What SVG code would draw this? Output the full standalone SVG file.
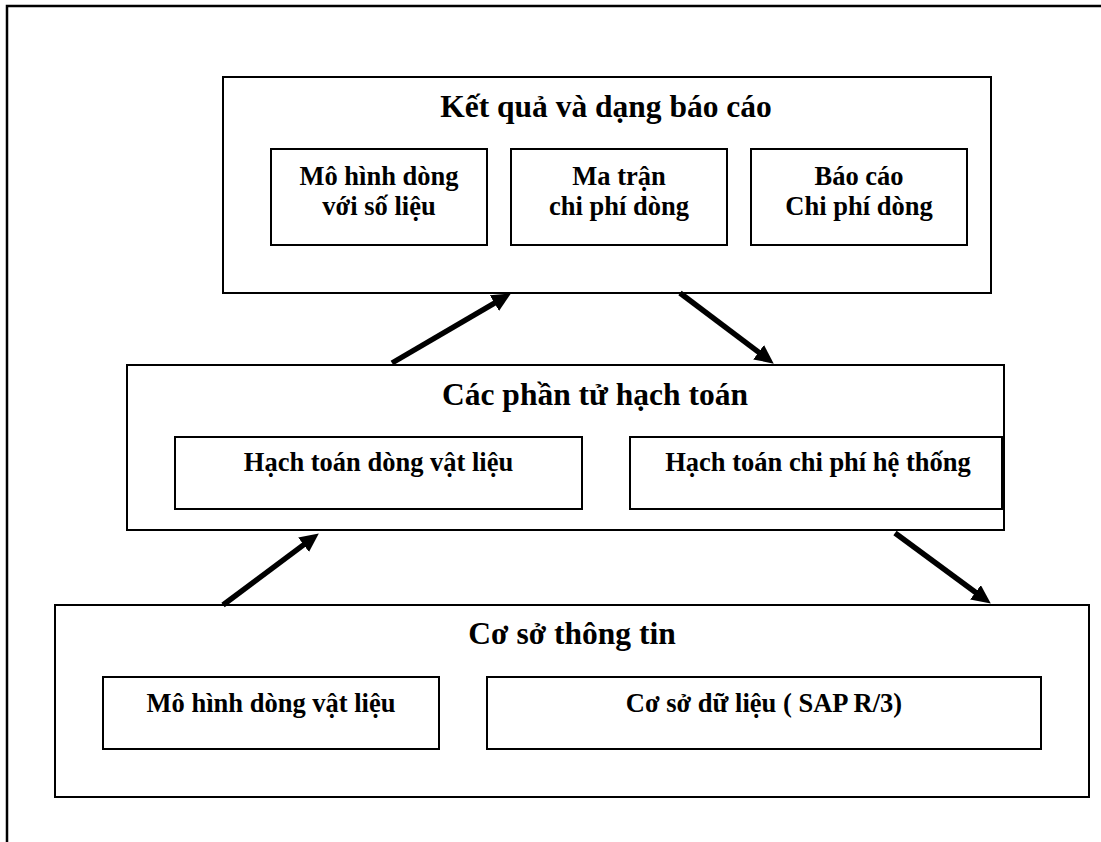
<svg xmlns="http://www.w3.org/2000/svg" width="1101" height="842" viewBox="0 0 1101 842">
  <style>
    .frame { fill: none; stroke: #000; stroke-width: 2.5; }
    .box { fill: #fff; stroke: #000; stroke-width: 2; }
    .sub { fill: #fff; stroke: #000; stroke-width: 2; }
    .title { font-family: "Liberation Serif", "Times New Roman", serif; font-weight: bold; font-size: 31.5px; text-anchor: middle; fill: #000; }
    .label { font-family: "Liberation Serif", "Times New Roman", serif; font-weight: bold; font-size: 26.5px; text-anchor: middle; fill: #000; }
    .arrow { stroke: #000; stroke-width: 5.5; fill: none; marker-end: url(#head); }
  </style>
  <defs>
    <marker id="head" markerUnits="userSpaceOnUse" markerWidth="20" markerHeight="18" refX="2" refY="9" orient="auto" viewBox="0 0 20 18">
      <path d="M0,0 L19,9 L0,18 z" fill="#000"/>
    </marker>
  </defs>

  <rect width="1101" height="842" fill="#fff"/>

  <!-- page frame: top and left rules only -->
  <path class="frame" d="M7,842 L7,6 L1101,6"/>

  <!-- results & reports layer -->
  <g id="ket-qua">
    <rect class="box" x="223" y="77" width="768" height="216"/>
    <text class="title" x="606" y="117">Kết quả và dạng báo cáo</text>
  </g>
  <g id="mo-hinh-so-lieu">
    <rect class="sub" x="271" y="149" width="216" height="96"/>
    <text class="label" x="379" y="185">Mô hình dòng</text>
    <text class="label" x="379" y="215">với số liệu</text>
  </g>
  <g id="ma-tran">
    <rect class="sub" x="511" y="149" width="216" height="96"/>
    <text class="label" x="619" y="185">Ma trận</text>
    <text class="label" x="619" y="215">chi phí dòng</text>
  </g>
  <g id="bao-cao">
    <rect class="sub" x="751" y="149" width="216" height="96"/>
    <text class="label" x="859" y="185">Báo cáo</text>
    <text class="label" x="859" y="215">Chi phí dòng</text>
  </g>

  <!-- accounting elements layer -->
  <g id="phan-tu-hach-toan">
    <rect class="box" x="127" y="365" width="877" height="165"/>
    <text class="title" x="595" y="405">Các phần tử hạch toán</text>
  </g>
  <g id="hach-toan-vat-lieu">
    <rect class="sub" x="175" y="437" width="407" height="72"/>
    <text class="label" x="378.5" y="471">Hạch toán dòng vật liệu</text>
  </g>
  <g id="hach-toan-he-thong">
    <rect class="sub" x="630" y="437" width="372" height="72"/>
    <text class="label" x="818" y="471">Hạch toán chi phí hệ thống</text>
  </g>

  <!-- information base layer -->
  <g id="co-so-thong-tin">
    <rect class="box" x="55" y="605" width="1034" height="192"/>
    <text class="title" x="572" y="644">Cơ sở thông tin</text>
  </g>
  <g id="mo-hinh-vat-lieu">
    <rect class="sub" x="103" y="677" width="336" height="72"/>
    <text class="label" x="271" y="712">Mô hình dòng vật liệu</text>
  </g>
  <g id="co-so-du-lieu">
    <rect class="sub" x="487" y="677" width="554" height="72"/>
    <text class="label" x="764" y="712">Cơ sở dữ liệu ( SAP R/3)</text>
  </g>

  <!-- connectors -->
  <g id="connectors">
    <line class="arrow" x1="392" y1="363" x2="496.2" y2="302.1"/>
    <line class="arrow" x1="680" y1="293" x2="760.2" y2="353.4"/>
    <line class="arrow" x1="223" y1="605" x2="305.2" y2="543.6"/>
    <line class="arrow" x1="895" y1="533" x2="977.1" y2="593.5"/>
  </g>
</svg>
